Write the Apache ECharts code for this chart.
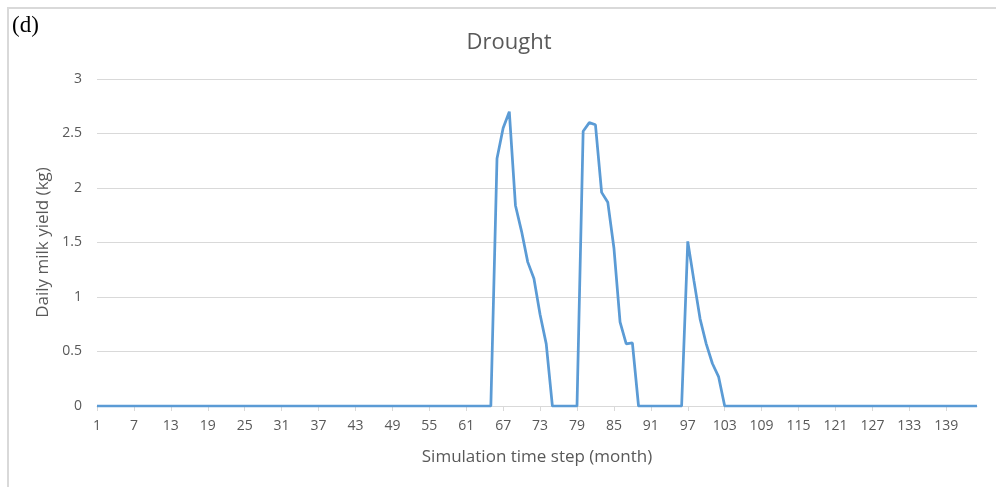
<!DOCTYPE html>
<html>
<head>
<meta charset="utf-8">
<script src="https://cdn.jsdelivr.net/npm/echarts@6/dist/echarts.min.js"></script>
<style>
  html, body { margin: 0; padding: 0; background: #fff; }
  #chart { width: 996px; height: 487px; }
</style>
</head>
<body>
<div id="chart"></div>
<script>
// Monthly time steps 1..144
const months = [];
for (let m = 1; m <= 144; m++) months.push(String(m));

// Daily milk yield (kg) under drought, one value per month
const yieldLead = new Array(65).fill(0);                 // months 1-65
const yieldPulse1 = [2.27, 2.55, 2.70, 1.84, 1.60, 1.32, 1.17, 0.84, 0.57]; // months 66-74
const yieldGap1 = [0, 0, 0, 0, 0];                        // months 75-79
const yieldPulse2 = [2.52, 2.60, 2.58, 1.96, 1.87, 1.45, 0.77, 0.57, 0.58]; // months 80-88
const yieldGap2 = [0, 0, 0, 0, 0, 0, 0, 0];               // months 89-96
const yieldPulse3 = [1.51, 1.15, 0.80, 0.57, 0.39, 0.27]; // months 97-102
const yieldTail = new Array(42).fill(0);                  // months 103-144

const milkYield = [].concat(yieldLead, yieldPulse1, yieldGap1, yieldPulse2,
                            yieldGap2, yieldPulse3, yieldTail);

const yTicks = [0, 0.5, 1, 1.5, 2, 2.5, 3];

const chart = echarts.init(document.getElementById('chart'));
const textColor = '#595959';
const fontFam = '"Open Sans", Lato, sans-serif';

chart.setOption({
  animation: false,
  backgroundColor: '#ffffff',
  title: {
    text: 'Drought',
    left: 504,
    textAlign: 'center',
    top: 27,
    textStyle: { color: textColor, fontSize: 22, fontWeight: 'normal', fontFamily: fontFam }
  },
  graphic: [
    {
      type: 'rect',
      shape: { x: 8, y: 8, width: 1000, height: 500 },
      style: { fill: 'none', stroke: '#d9d9d9', lineWidth: 2 },
      silent: true
    },
    {
      type: 'text',
      left: 12,
      top: 14,
      style: { text: '(d)', fill: '#000', fontSize: 23, fontFamily: '"Liberation Serif", "DejaVu Serif", serif' }
    }
  ],
  grid: { left: 97, right: 19, top: 79, bottom: 81, containLabel: false },
  xAxis: {
    type: 'category',
    data: months,
    boundaryGap: false,
    name: 'Simulation time step (month)',
    nameLocation: 'middle',
    nameGap: 43,
    nameTextStyle: { color: textColor, fontSize: 17, fontFamily: fontFam },
    axisLine: { lineStyle: { color: '#d9d9d9', width: 1 } },
    axisTick: { show: true, interval: 5, length: 5, lineStyle: { color: '#d9d9d9' } },
    axisLabel: { interval: 5, color: textColor, fontSize: 14, fontFamily: fontFam, margin: 13 },
    splitLine: { show: false }
  },
  yAxis: {
    type: 'value',
    min: yTicks[0],
    max: yTicks[yTicks.length - 1],
    interval: 0.5,
    name: 'Daily milk yield (kg)',
    nameLocation: 'middle',
    nameGap: 43,
    nameTextStyle: { color: textColor, fontSize: 17, fontFamily: fontFam },
    axisLine: { show: false },
    axisTick: { show: false },
    axisLabel: { color: textColor, fontSize: 14, fontFamily: fontFam, margin: 15 },
    splitLine: { lineStyle: { color: '#d9d9d9', width: 1 } }
  },
  series: [{
    type: 'line',
    data: milkYield,
    showSymbol: false,
    symbol: 'none',
    lineStyle: { color: '#5b9bd5', width: 2.75 },
    itemStyle: { color: '#5b9bd5' }
  }]
});
</script>
</body>
</html>
